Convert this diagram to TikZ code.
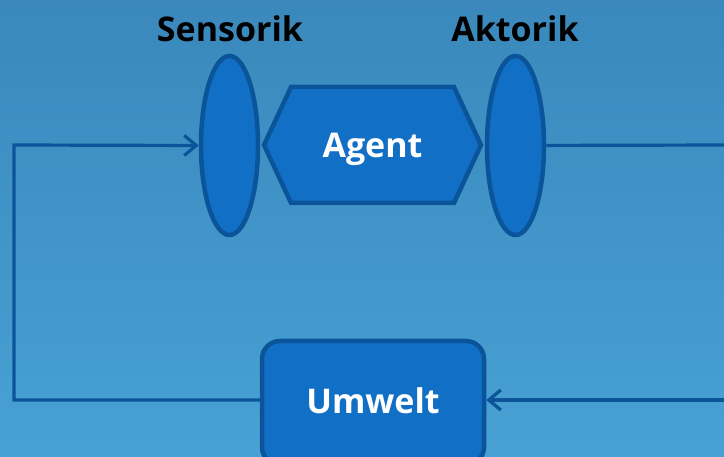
\documentclass[tikz,border=0pt]{standalone}
\usepackage{fontspec}
\setmainfont{Open Sans}
\usetikzlibrary{shapes.geometric,shapes.symbols,arrows.meta}
\definecolor{bgtop}{HTML}{3A88BC}
\definecolor{bgbot}{HTML}{48A1D4}
\definecolor{boxfill}{HTML}{1170C6}
\definecolor{boxline}{HTML}{0B5499}
\begin{document}
\begin{tikzpicture}[x=1pt,y=-1pt,
    part/.style={draw=boxline,fill=boxfill,line width=4.5pt,inner sep=0pt},
    organ/.style={part,ellipse,minimum width=57pt,minimum height=179pt},
    lbl/.style={font=\fontsize{34}{40}\selectfont\bfseries,text height=25pt,text depth=0pt},
    link/.style={draw=boxline,line width=3.2pt},
    tip/.style={-{Straight Barb[length=12pt,width=20pt]}}]
    \useasboundingbox (0,0) rectangle (724,457);
    \fill[top color=bgtop,bottom color=bgbot] (0,0) rectangle (724,457);
    %% agent
    \node[part,lbl,text=white,signal,signal to=west and east,signal pointer angle=130,
      minimum width=217pt,minimum height=116pt] (agent) at (372.5,145) {Agent};
    \node[organ] (sensor) at (229.5,145.5) {};
    \node[organ] (aktor) at (515.5,145.5) {};
    \node[lbl,anchor=base] (sensorlbl) at (230,42) {Sensorik};
    \node[lbl,anchor=base] (aktorlbl) at (515,42) {Aktorik};
    %% umwelt
    \node[part,lbl,text=white,text depth=4pt,rounded corners=18pt,minimum width=222pt,minimum height=124pt]
      (umwelt) at (373,403) {Umwelt};
    %% loop
    \coordinate (outr) at (730,145);
    \coordinate (inr) at (730,400);
    \coordinate (lo) at (14,400);
    \coordinate (hi) at (14,145);
    \draw[link] (aktor) -- (outr);
    \draw[link,tip] (inr) -- (inr -| umwelt.east);
    \draw[link,tip] (lo -| umwelt.west) -- (lo) -- (hi) -- (sensor.west);
\end{tikzpicture}
\end{document}
